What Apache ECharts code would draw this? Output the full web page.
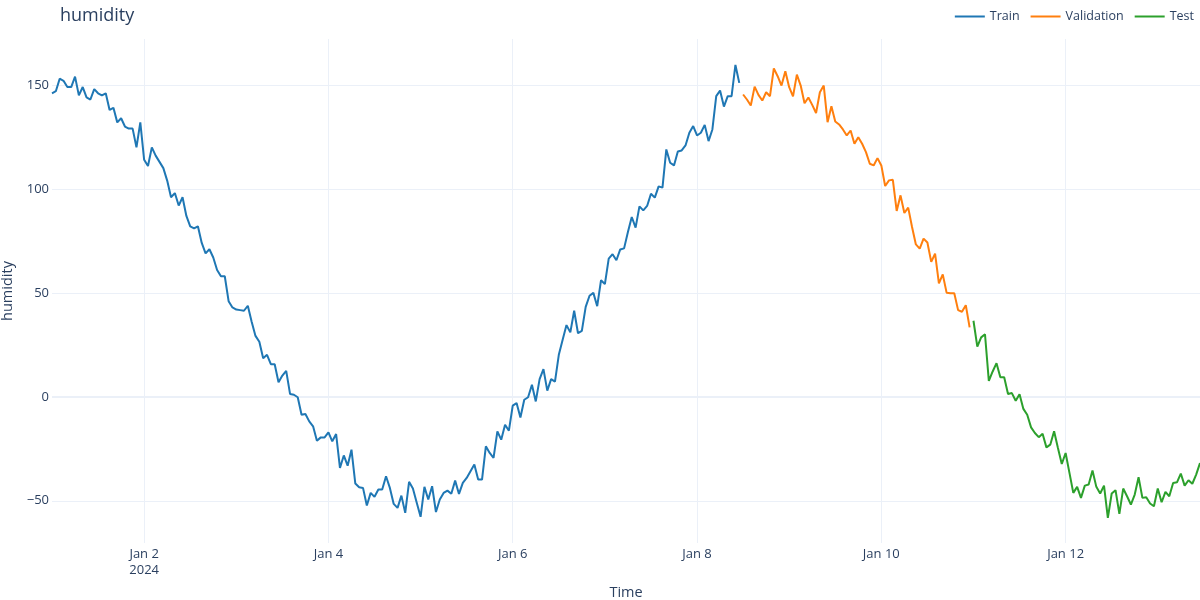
<!DOCTYPE html>
<html>
<head>
    <meta charset="utf-8">
    <title>humidity</title>
    <script src="https://cdn.jsdelivr.net/npm/echarts@6.0.0/dist/echarts.min.js"></script>
    <style>
        html, body { margin: 0; padding: 0; background: #fff; }
        #chart { width: 1200px; height: 600px; }
    </style>
</head>
<body>
<div id="chart"></div>
<script type="text/javascript">
    // hourly samples starting 2024-01-01 00:00
    var startTime = '2024-01-01 00:00';
    var stepHours = 1;

    var trainValues = [
        146, 147, 153, 152, 149, 149, 154, 145, 149, 144, 143, 148, 146, 145, 146, 138, 139, 132, 134, 130,
        129, 129, 120, 132, 114, 111, 120, 116, 113, 110, 104, 96, 98, 92, 96, 87, 82, 81, 82, 74,
        69, 71, 67, 61, 58, 58, 46, 43, 42, 41.7, 41.4, 43.8, 36.1, 29.3, 26.5, 18.6, 20.2, 15.7, 15.7, 7.0,
        10.2, 12.5, 1.4, 1.0, -0.2, -8.6, -8.3, -11.8, -14.2, -21.1, -19.5, -19.5, -17.1, -21.4, -17.9, -34.2, -28.2, -33.1, -25.4, -41.7,
        -43.5, -43.8, -52.3, -46.2, -48.1, -44.6, -44.6, -38.2, -43.8, -51.5, -53.4, -47.5, -55.8, -40.9, -44.1, -50.9, -57.7, -43.3, -49.4, -43.0,
        -55.4, -49.4, -46.2, -45.1, -46.6, -40.3, -46.7, -41.4, -39.0, -35.8, -32.6, -39.8, -39.8, -23.8, -27.0, -29.4, -16.6, -20.6, -13.4, -16.3,
        -4.2, -3.0, -9.9, -1.4, -0.2, 5.8, -2.2, 8.5, 13.3, 3.0, 8.5, 7.3, 20.2, 27.4, 34.5, 31.0, 41.4, 30.6, 31.7, 43.3,
        48.6, 50.0, 43.6, 56.1, 54.2, 66.5, 68.6, 65.7, 70.9, 71.4, 79.3, 86.5, 81.4, 91.6, 89.7, 91.8, 97.7, 95.8, 101.2, 100.6,
        119.0, 112.6, 111.3, 118.0, 118.5, 120.9, 127.0, 130.2, 125.7, 127.0, 130.8, 123.0, 128.6, 144.6, 147.3, 139.6, 144.6, 144.6, 159.6, 151.0
    ];
    var validValues = [
        145.4, 143.0, 140.1, 149.2, 145.2, 142.5, 146.5, 144.6, 158.0, 154.2, 149.7, 156.6, 148.9, 144.5, 155.0, 149.7, 141.2, 144.0, 140.4, 136.5,
        146.5, 149.7, 132.1, 139.8, 132.4, 131.0, 128.6, 125.7, 128.1, 121.7, 124.9, 121.7, 117.7, 112.1, 111.3, 114.8, 111.3, 101.4, 104.1, 104.4,
        89.4, 96.9, 88.4, 91.0, 81.7, 73.3, 71.3, 76.1, 74.2, 64.9, 68.9, 54.6, 58.9, 50.1, 49.8, 49.8, 41.7, 40.9, 44.1, 33.4
    ];
    var testValues = [
        36.6, 24.1, 28.6, 30.1, 7.7, 12.2, 16.2, 9.4, 9.4, 1.4, 1.8, -1.9, 1.3, -5.8, -8.6, -14.7, -17.4, -19.4, -17.8, -24.3,
        -23.0, -16.6, -24.6, -32.3, -27.0, -36.6, -46.2, -43.3, -48.6, -42.7, -42.2, -35.4, -43.3, -46.5, -42.7, -58.2, -46.5, -44.9, -56.3, -44.1,
        -47.8, -51.8, -47.0, -38.7, -48.6, -48.3, -51.3, -52.6, -44.1, -50.7, -45.7, -47.8, -41.4, -41.1, -36.9, -42.7, -40.1, -41.8, -37.4, -31.8
    ];

    // x ticks, in hours after startTime
    var tickHours = [24, 72, 120, 168, 216, 264];
    var tickLabels = ['Jan 2\n2024', 'Jan 4', 'Jan 6', 'Jan 8', 'Jan 10', 'Jan 12'];

    function toPoints(values, offset) {
        return values.map(function (v, i) {
            return [(offset + i) * stepHours, v];
        });
    }

    var textColor = '#2a3f5f';
    var gridColor = '#EBF0F8';
    var fontFamily = '"Open Sans", Verdana, Arial, sans-serif';
    var totalCount = trainValues.length + validValues.length + testValues.length;

    var myChart = echarts.init(document.getElementById('chart'));
    myChart.setOption({
        animation: false,
        textStyle: { fontFamily: fontFamily, color: textColor },
        title: {
            text: 'humidity',
            left: 55,
            top: 2,
            textStyle: { fontSize: 18, fontWeight: 'normal', color: textColor, fontFamily: fontFamily }
        },
        legend: {
            data: ['Train', 'Validation', 'Test'],
            right: 1,
            top: 5,
            icon: 'rect',
            itemWidth: 30,
            itemHeight: 2,
            itemGap: 11,
            textStyle: { fontSize: 12.5, color: textColor, fontFamily: fontFamily }
        },
        grid: { left: 52, right: 0, top: 39, bottom: 57, containLabel: false, outerBoundsMode: 'none' },
        xAxis: {
            type: 'value',
            min: 0,
            max: (totalCount - 1) * stepHours,
            name: 'Time',
            nameLocation: 'middle',
            nameGap: 42,
            nameTextStyle: { fontSize: 14.5, color: textColor },
            axisLine: { show: false },
            axisTick: { show: false, customValues: tickHours },
            axisLabel: {
                customValues: tickHours,
                margin: 3,
                fontSize: 13,
                lineHeight: 16,
                color: textColor,
                formatter: function (v) {
                    var k = tickHours.indexOf(v);
                    return k >= 0 ? tickLabels[k] : '';
                }
            },
            splitLine: { show: true, lineStyle: { color: gridColor, width: 1 } }
        },
        yAxis: {
            type: 'value',
            min: -70.3,
            max: 172.1,
            splitNumber: 5,
            name: 'humidity',
            nameLocation: 'middle',
            nameGap: 31,
            nameTextStyle: { fontSize: 14.5, color: textColor },
            axisLine: { show: false },
            axisTick: { show: false },
            axisLabel: {
                showMinLabel: false,
                showMaxLabel: false,
                margin: 3,
                fontSize: 13,
                color: textColor,
                formatter: function (v) {
                    return v < 0 ? '\u2212' + Math.abs(v) : String(v);
                }
            },
            splitLine: {
                show: true,
                showMinLine: false,
                showMaxLine: false,
                lineStyle: { color: gridColor, width: 1 }
            }
        },
        series: [
            {
                name: 'zero',
                type: 'line',
                data: [],
                z: 1,
                silent: true,
                markLine: {
                    z: 1,
                    silent: true,
                    symbol: 'none',
                    label: { show: false },
                    lineStyle: { color: gridColor, width: 2, type: 'solid' },
                    data: [{ yAxis: 0 }]
                }
            },
            {
                name: 'Train',
                type: 'line',
                data: toPoints(trainValues, 0),
                showSymbol: false,
                z: 3,
                itemStyle: { color: '#1f77b4' },
                lineStyle: { color: '#1f77b4', width: 2 }
            },
            {
                name: 'Validation',
                type: 'line',
                data: toPoints(validValues, trainValues.length),
                showSymbol: false,
                z: 3,
                itemStyle: { color: '#ff7f0e' },
                lineStyle: { color: '#ff7f0e', width: 2 }
            },
            {
                name: 'Test',
                type: 'line',
                data: toPoints(testValues, trainValues.length + validValues.length),
                showSymbol: false,
                z: 3,
                itemStyle: { color: '#2ca02c' },
                lineStyle: { color: '#2ca02c', width: 2 }
            }
        ]
    });
</script>
</body>
</html>
